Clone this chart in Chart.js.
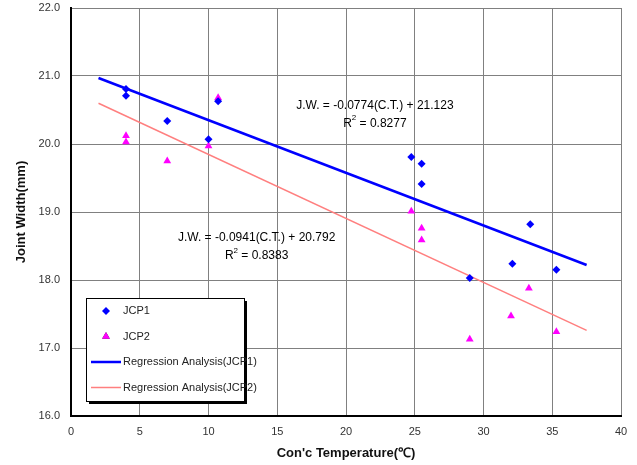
<!DOCTYPE html>
<html>
<head>
<meta charset="utf-8">
<script src="https://cdn.jsdelivr.net/npm/chart.js@4.4.1/dist/chart.umd.min.js"></script>
<style>
  html, body { margin: 0; padding: 0; background: #fff; }
  #wrap { width: 637px; height: 465px; }
</style>
</head>
<body>
<div id="wrap"><canvas id="chart" width="637" height="465"></canvas></div>
<script>
// Data
const jcp1Temp = [4, 4, 7, 10, 10.7, 24.75, 25.5, 25.5, 29, 32.1, 33.4, 35.3];
const jcp1Width = [20.81, 20.71, 20.34, 20.07, 20.63, 19.81, 19.71, 19.41, 18.03, 18.24, 18.82, 18.15];
const jcp2Temp = [4, 4, 7, 10, 10.7, 24.75, 25.5, 25.5, 29, 32, 33.3, 35.3];
const jcp2Width = [20.12, 20.03, 19.75, 19.97, 20.68, 19.01, 18.76, 18.59, 17.13, 17.47, 17.88, 17.24];
const fitTemp = [2, 37.5];
const fit1Width = [20.97, 18.22];
const fit2Width = [20.60, 17.26];
const xTicks = [0, 5, 10, 15, 20, 25, 30, 35, 40];
const yTicks = [16, 17, 18, 19, 20, 21, 22];

const toPoints = (xs, ys) => xs.map((x, i) => ({ x, y: ys[i] }));

// Regression equations drawn on the plot (anchor in data units)
const equations = [
    { x: 22.1, y: 20.57, line1: 'J.W. = -0.0774(C.T.) + 21.123', r2: '0.8277' },
    { x: 13.5, y: 18.62, line1: 'J.W. = -0.0941(C.T.) + 20.792', r2: '0.8383' }
];

const FONT = '"Liberation Sans", Arial, sans-serif';

const equationPlugin = {
    id: 'equations',
    afterDatasetsDraw: (chart) => {
        const { ctx, scales } = chart;
        ctx.save();
        ctx.fillStyle = '#000';
        ctx.textBaseline = 'middle';
        equations.forEach(eq => {
            const cx = scales.x.getPixelForValue(eq.x);
            const cy = scales.y.getPixelForValue(eq.y);
            ctx.font = '12px ' + FONT;
            ctx.textAlign = 'center';
            ctx.fillText(eq.line1, cx, cy);
            // R^2 line with a real superscript
            const rest = ' = ' + eq.r2;
            const wR = ctx.measureText('R').width;
            const wRest = ctx.measureText(rest).width;
            ctx.font = '8px ' + FONT;
            const wSup = ctx.measureText('2').width;
            const total = wR + wSup + wRest;
            let x0 = cx - total / 2;
            const y2 = cy + 18;
            ctx.textAlign = 'left';
            ctx.font = '12px ' + FONT;
            ctx.fillText('R', x0, y2);
            ctx.font = '8px ' + FONT;
            ctx.fillText('2', x0 + wR, y2 - 5);
            ctx.font = '12px ' + FONT;
            ctx.fillText(rest, x0 + wR + wSup, y2);
        });
        ctx.restore();
    }
};

const boxLegendPlugin = {
    id: 'boxLegend',
    afterDatasetsDraw: (chart) => {
        const { ctx } = chart;
        const left = 86, top = 298, w = 158, h = 103;
        ctx.save();
        ctx.fillStyle = '#000';
        ctx.fillRect(left + 3, top + 3, w, h);
        ctx.fillStyle = '#fff';
        ctx.fillRect(left, top, w, h);
        ctx.strokeStyle = '#000';
        ctx.lineWidth = 1;
        ctx.strokeRect(left + 0.5, top + 0.5, w, h);

        ctx.font = '11px ' + FONT;
        ctx.textBaseline = 'middle';
        ctx.textAlign = 'left';
        chart.data.datasets.forEach((ds, i) => {
            const y = top + 13 + i * 25.5;
            if (ds.type === 'line') {
                ctx.strokeStyle = ds.borderColor;
                ctx.lineWidth = ds.borderWidth;
                ctx.beginPath();
                ctx.moveTo(left + 5, y);
                ctx.lineTo(left + 35, y);
                ctx.stroke();
            } else {
                Chart.helpers.drawPoint(ctx, {
                    pointStyle: ds.pointStyle, radius: ds.pointRadius, borderWidth: 0
                }, left + 20, y);
                ctx.fillStyle = ds.backgroundColor;
                ctx.fill();
            }
            ctx.fillStyle = '#222';
            ctx.fillText(ds.label, left + 37, y);
        });
        ctx.restore();
    }
};

new Chart(document.getElementById('chart'), {
    type: 'scatter',
    data: {
        datasets: [
            {
                label: 'JCP1',
                data: toPoints(jcp1Temp, jcp1Width),
                pointStyle: 'rectRot',
                pointRadius: 4,
                backgroundColor: '#0000FF',
                borderColor: '#0000FF',
                borderWidth: 0
            },
            {
                label: 'JCP2',
                data: toPoints(jcp2Temp, jcp2Width),
                pointStyle: 'triangle',
                pointRadius: 4.5,
                backgroundColor: '#FF00FF',
                borderColor: '#FF00FF',
                borderWidth: 0
            },
            {
                type: 'line',
                label: 'Regression Analysis(JCP1)',
                data: toPoints(fitTemp, fit1Width),
                borderColor: '#0000FF',
                borderWidth: 2.5,
                pointRadius: 0,
                fill: false
            },
            {
                type: 'line',
                label: 'Regression Analysis(JCP2)',
                data: toPoints(fitTemp, fit2Width),
                borderColor: '#FF7F7F',
                borderWidth: 1.5,
                pointRadius: 0,
                fill: false
            }
        ]
    },
    options: {
        responsive: false,
        animation: false,
        layout: { padding: { top: 8, right: 16, left: 0, bottom: 0 } },
        plugins: {
            legend: { display: false },
            tooltip: { enabled: false }
        },
        scales: {
            x: {
                type: 'linear',
                min: 0,
                max: 40,
                afterBuildTicks: (scale) => { scale.ticks = xTicks.map(v => ({ value: v })); },
                afterFit: (scale) => {
                    scale.height = 49;
                    scale.paddingLeft = 0;
                    scale.paddingRight = 0;
                },
                grid: { color: '#808080', lineWidth: 1, drawTicks: false },
                border: { color: '#000', width: 2 },
                ticks: {
                    padding: 9,
                    color: '#333',
                    font: { family: FONT, size: 11 }
                },
                title: {
                    display: true,
                    text: 'Con\'c Temperature(℃)',
                    color: '#111',
                    font: { family: FONT, size: 13, weight: 'bold' },
                    padding: { top: 0, bottom: 4 }
                }
            },
            y: {
                type: 'linear',
                min: 16,
                max: 22,
                afterBuildTicks: (scale) => { scale.ticks = yTicks.map(v => ({ value: v })); },
                afterFit: (scale) => {
                    scale.width = 71;
                    scale.paddingTop = 0;
                    scale.paddingBottom = 0;
                },
                grid: { color: '#808080', lineWidth: 1, drawTicks: false },
                border: { color: '#000', width: 2 },
                ticks: {
                    padding: 11,
                    color: '#333',
                    font: { family: FONT, size: 11 },
                    callback: (v) => v.toFixed(1)
                },
                title: {
                    display: true,
                    text: 'Joint Width(mm)',
                    color: '#111',
                    font: { family: FONT, size: 13, weight: 'bold' },
                    padding: { top: 14, bottom: 0 }
                }
            }
        }
    },
    plugins: [equationPlugin, boxLegendPlugin]
});
</script>
</body>
</html>
